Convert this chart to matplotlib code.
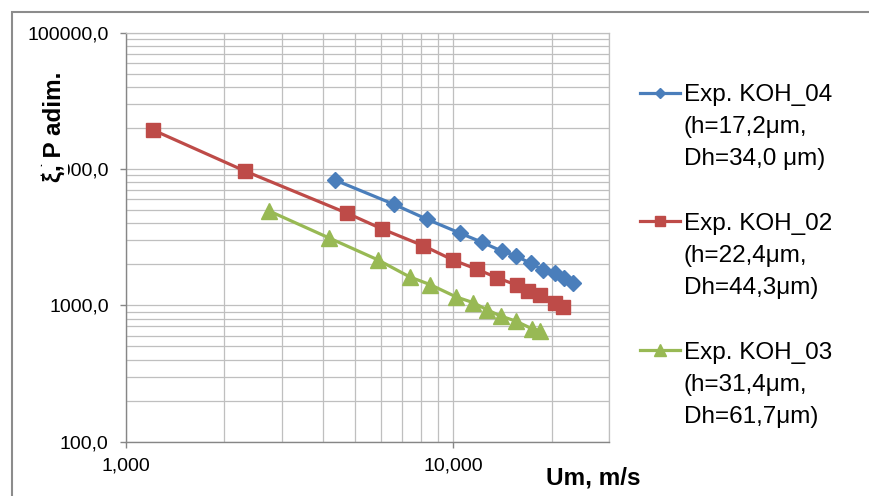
import matplotlib
matplotlib.use("Agg")
import matplotlib.pyplot as plt
from matplotlib.lines import Line2D
from matplotlib.patches import Rectangle
from matplotlib.ticker import FixedLocator, LogLocator, NullFormatter

plt.rcParams['font.family'] = ['Liberation Sans', 'DejaVu Sans']

# ---- data ----
koh04_x = [4.35, 6.59, 8.33, 10.48, 12.27, 14.06, 15.54, 17.24, 18.84, 20.45, 21.84, 23.26]
koh04_y = [8305, 5508, 4275, 3391, 2899, 2503, 2312, 2033, 1815, 1717, 1579, 1450]

koh02_x = [1.21, 2.31, 4.75, 6.07, 8.10, 10.0, 11.84, 13.63, 15.62, 16.95, 18.41, 20.45, 21.59]
koh02_y = [19320, 9667, 4731, 3630, 2738, 2149, 1837, 1594, 1409, 1273, 1190, 1034, 977]

koh03_x = [2.74, 4.18, 5.90, 7.37, 8.49, 10.23, 11.49, 12.65, 13.96, 15.54, 17.36, 18.41]
koh03_y = [4920, 3118, 2151, 1615, 1422, 1151, 1049, 932, 835, 767, 676, 653]

series_names = ["Exp. KOH_04", "Exp. KOH_02", "Exp. KOH_03"]
series_notes = [["(h=17,2\u03bcm,", "Dh=34,0 \u03bcm)"],
                ["(h=22,4\u03bcm,", "Dh=44,3\u03bcm)"],
                ["(h=31,4\u03bcm,", "Dh=61,7\u03bcm)"]]

y_ticks = [100, 1000, 10000, 100000]
y_tick_labels = ["100,0", "1000,0", "10000,0", "100000,0"]
x_ticks = [1, 10]
x_tick_labels = ["1,000", "10,000"]

x_label = "Um, m/s"
y_label = "\u03be, P adim."

colors = ["#4A7EBB", "#BE4B48", "#98B954"]
grid_color = "#BFBFBF"
axis_color = "#868686"

fig = plt.figure(figsize=(8.69, 4.96), dpi=100)
ax = fig.add_axes([0.145, 0.1095, 0.5561, 0.8246])

l1, = ax.plot(koh04_x, koh04_y, color=colors[0], lw=2.3, marker='D', ms=7.8,
              markeredgecolor=colors[0], markerfacecolor=colors[0], zorder=3)
l2, = ax.plot(koh02_x, koh02_y, color=colors[1], lw=2.3, marker='s', ms=10,
              markeredgecolor=colors[1], markerfacecolor=colors[1], zorder=3)
l3, = ax.plot(koh03_x, koh03_y, color=colors[2], lw=2.3, marker='^', ms=11.5,
              markeredgecolor=colors[2], markerfacecolor=colors[2], zorder=3)

ax.set_xscale('log')
ax.set_yscale('log')
ax.set_xlim(1, 30)
ax.set_ylim(100, 100000)

ax.xaxis.set_major_locator(FixedLocator(x_ticks))
ax.set_xticklabels(x_tick_labels)
ax.yaxis.set_major_locator(FixedLocator(y_ticks))
ax.set_yticklabels(y_tick_labels)
ax.xaxis.set_minor_locator(LogLocator(base=10, subs=range(2, 10)))
ax.yaxis.set_minor_locator(LogLocator(base=10, subs=range(2, 10)))
ax.xaxis.set_minor_formatter(NullFormatter())
ax.yaxis.set_minor_formatter(NullFormatter())

ax.tick_params(axis='both', which='major', labelsize=14, length=4.5, width=1,
               color=axis_color, direction='out')
ax.tick_params(axis='y', which='major', pad=8)
ax.tick_params(axis='x', which='major', pad=7)
ax.tick_params(axis='both', which='minor', length=0)

ax.grid(True, which='both', color=grid_color, lw=0.9)
ax.set_axisbelow(True)

for s in ['left', 'bottom']:
    ax.spines[s].set_color(axis_color)
    ax.spines[s].set_linewidth(1.0)
for s in ['top', 'right']:
    ax.spines[s].set_color(grid_color)
    ax.spines[s].set_linewidth(0.9)

ax.set_xlabel(x_label, fontsize=17.5, fontweight='bold')
ax.xaxis.set_label_coords(0.966, -0.06)
ax.set_ylabel(y_label, fontsize=17.5, fontweight='bold',
              bbox=dict(facecolor='white', edgecolor='none', pad=1))
ax.yaxis.set_label_coords(-0.124, 0.769)

# legend: each series on three rows, blank row between groups
blank = Line2D([], [], color='none')
handles, labels = [], []
for i, (h, name, notes) in enumerate(zip([l1, l2, l3], series_names, series_notes)):
    handles += [h, blank, blank]
    labels += [name] + notes
    if i < 2:
        handles.append(blank)
        labels.append(" ")
leg = fig.legend(handles, labels, loc='upper left',
                 bbox_to_anchor=(640 / 869, 1 - 84 / 496),
                 frameon=False, fontsize=17.5, handlelength=1.65,
                 handletextpad=0.15, labelspacing=0.42, borderpad=0,
                 borderaxespad=0, markerscale=0.7)

# outer chart border (top and left visible)
fig.add_artist(Rectangle((12 / 869, -0.2), 1.2, 1.2 - 12 / 496,
                         transform=fig.transFigure, fill=False,
                         edgecolor='#8C8C8C', lw=1.5, clip_on=False))

fig.savefig("out.png", dpi=100)
